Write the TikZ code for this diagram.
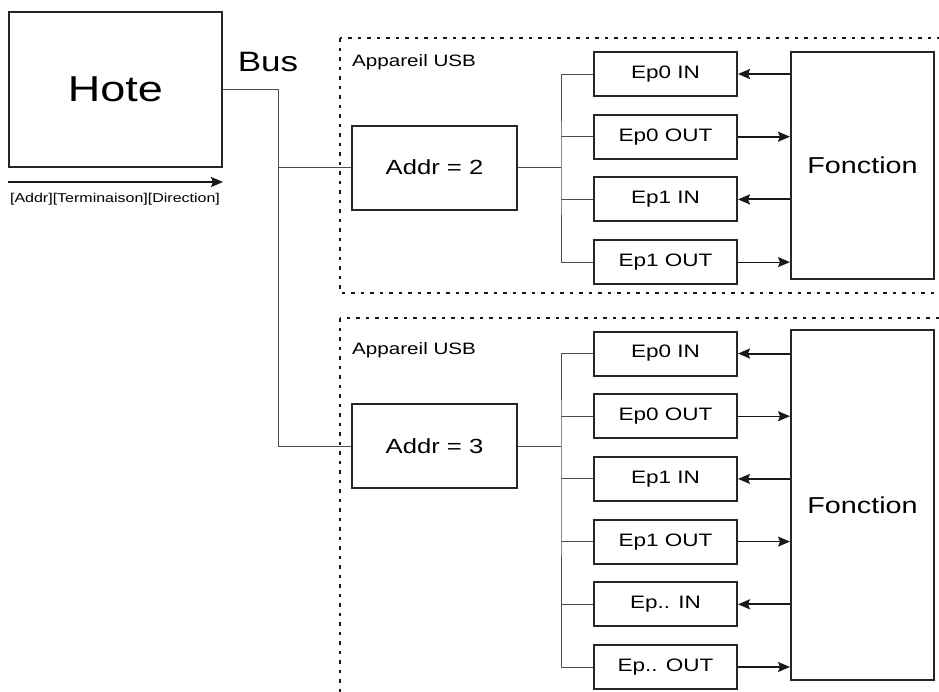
\documentclass[tikz,border=0pt]{standalone}
\usepackage{fontspec}
\setmainfont{Liberation Sans}[FakeStretch=1.25]
\usetikzlibrary{arrows.meta,positioning}

\begin{document}
\begin{tikzpicture}[x=1pt,y=-1pt]
    \tikzstyle{box}=[draw=black!85, line width=2pt, inner sep=0pt]
    \tikzstyle{ep}=[box, minimum width=143pt, minimum height=44pt, node distance=16.7pt, font=\fontsize{18}{18}\selectfont]
    \tikzstyle{addr}=[box, minimum width=165pt, minimum height=84pt, font=\fontsize{20.5}{20.5}\selectfont]
    \tikzstyle{fonction}=[box, minimum width=143pt, font=\fontsize{23}{23}\selectfont]
    \tikzstyle{wire}=[black!70, line width=1pt]
    \tikzstyle{connect}=[-{Stealth[length=12pt,width=10pt,inset=2pt]}, black!90, line width=1.2pt]
    \tikzstyle{heavy}=[connect, line width=2pt]
    \tikzstyle{device}=[black!90, dash pattern=on 3.5pt off 6pt, line width=2pt]
    \tikzstyle{small}=[anchor=west, inner sep=0pt, font=\fontsize{16.5}{16.5}\selectfont]
    \clip (0,0) rectangle (939,691);

    % host and bus
    \node[box, minimum width=213pt, minimum height=155pt, font=\fontsize{36}{36}\selectfont] (hote) at (115.5,89.5) {Hote};
    \draw[heavy] ([yshift=-14pt]hote.south west) -- ([yshift=-14pt]hote.south east);
    \node[inner sep=0pt, font=\fontsize{12.8}{12.8}\selectfont] (dirlabel) at (115,199) {[Addr][Terminaison][Direction]};
    \node[inner sep=0pt, font=\fontsize{28}{28}\selectfont] (bus) at (268,62) {Bus};

    % device frames
    \draw[device] (340,38) rectangle (960,293);
    \draw[device] (340,318) rectangle (960,710);
    \node[small] (deva) at (352,62) {Appareil USB};
    \node[small] (devb) at (352,350) {Appareil USB};

    % first device
    \node[addr] (addra) at (434.5,167.5) {Addr = 2};
    \node[ep] (ep0ina) at (665.5,74) {Ep0 IN};
    \node[ep] (ep0outa) [below=of ep0ina] {Ep0 OUT};
    \node[ep] (ep1ina) [below=of ep0outa] {Ep1 IN};
    \node[ep] (ep1outa) [below=of ep1ina] {Ep1 OUT};
    \node[fonction, minimum height=227pt] (fonca) at (862.5,165.5) {Fonction};

    % second device
    \node[addr] (addrb) at (434.5,446) {Addr = 3};
    \node[ep] (ep0inb) at (665.5,353.5) {Ep0 IN};
    \node[ep] (ep0outb) [below=of ep0inb] {Ep0 OUT};
    \node[ep] (ep1inb) [below=of ep0outb] {Ep1 IN};
    \node[ep] (ep1outb) [below=of ep1inb] {Ep1 OUT};
    \node[ep] (epninb) [below=of ep1outb] {Ep.. IN};
    \node[ep] (epnoutb) [below=of epninb] {Ep.. OUT};
    \node[fonction, minimum height=350pt] (foncb) at (862.5,505) {Fonction};

    % bus wiring
    \coordinate (trunk) at (278,446);
    \draw[wire] (hote.east) -| (trunk) -- (addrb.west);
    \draw[wire] (addra.west) -- (addra.west -| trunk);

    \coordinate (forka) at (561,167.5);
    \draw[wire] (addra.east) -- (forka);
    \draw[wire] (ep0ina.west) -| (forka) |- (ep1outa.west);
    \draw[wire] (forka |- ep0outa) -- (ep0outa.west);
    \draw[wire] (forka |- ep1ina) -- (ep1ina.west);

    \coordinate (forkb) at (561,446);
    \draw[wire] (addrb.east) -- (forkb);
    \draw[wire] (ep0inb.west) -| (forkb) |- (epnoutb.west);
    \draw[wire] (forkb |- ep0outb) -- (ep0outb.west);
    \draw[wire] (forkb |- ep1inb) -- (ep1inb.west);
    \draw[wire] (forkb |- ep1outb) -- (ep1outb.west);
    \draw[wire] (forkb |- epninb) -- (epninb.west);

    % endpoints to function
    \draw[heavy] (fonca.west |- ep0ina) -- (ep0ina.east);
    \draw[heavy] (ep0outa.east) -- (fonca.west |- ep0outa);
    \draw[heavy] (fonca.west |- ep1ina) -- (ep1ina.east);
    \draw[connect] (ep1outa.east) -- (fonca.west |- ep1outa);

    \draw[heavy] (foncb.west |- ep0inb) -- (ep0inb.east);
    \draw[connect] (ep0outb.east) -- (foncb.west |- ep0outb);
    \draw[connect] (foncb.west |- ep1inb) -- (ep1inb.east);
    \draw[connect] (ep1outb.east) -- (foncb.west |- ep1outb);
    \draw[heavy] (foncb.west |- epninb) -- (epninb.east);
    \draw[connect] (epnoutb.east) -- (foncb.west |- epnoutb);
\end{tikzpicture}
\end{document}
